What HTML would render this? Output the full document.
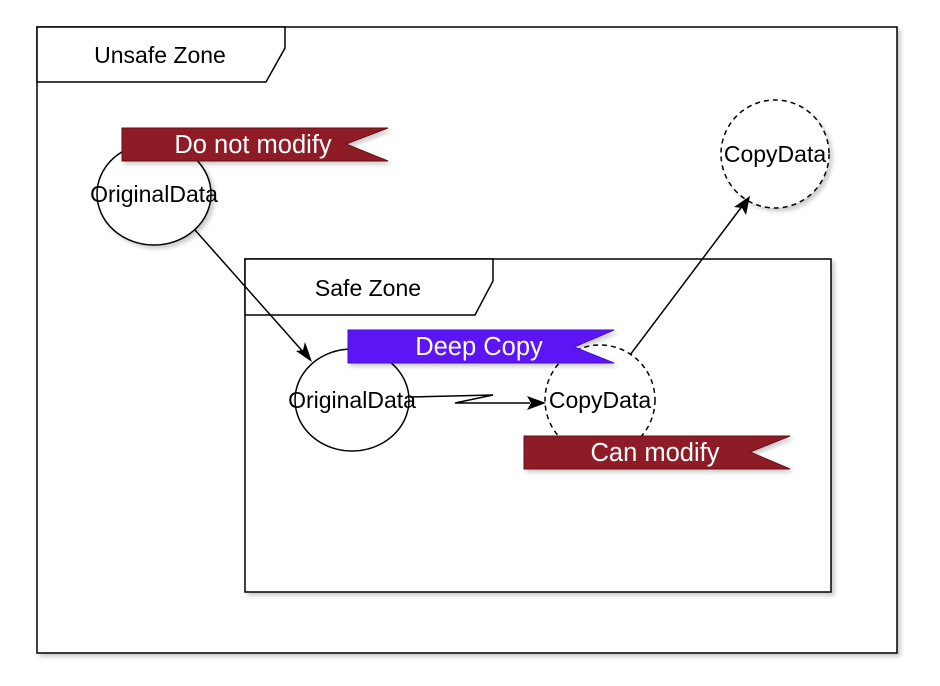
<!DOCTYPE html>
<html><head><style>body{margin:0;background:#fff}svg{display:block}text{font-family:"Liberation Sans",Arial,sans-serif}</style></head><body>
<svg width="940" height="686" viewBox="0 0 940 686" xmlns="http://www.w3.org/2000/svg">
<defs>
<filter id="sh" x="-10%" y="-10%" width="130%" height="130%"><feDropShadow dx="3" dy="3" stdDeviation="2" flood-color="#000" flood-opacity="0.2"/></filter>
</defs>
<g filter="url(#sh)">
<rect x="37" y="27" width="860" height="626" fill="#fff" stroke="#000" stroke-width="1.5"/>
<path d="M37,27 H285 V48 L266,82 H37 Z" fill="#fff" stroke="#000" stroke-width="1.5"/>
</g>
<text x="160" y="63" font-size="23" text-anchor="middle">Unsafe Zone</text>
<g filter="url(#sh)">
<ellipse cx="154" cy="194" rx="57" ry="51" fill="#fff" stroke="#000" stroke-width="1.5"/>
<circle cx="775" cy="154" r="54" fill="#fff" stroke="#000" stroke-width="1.5" stroke-dasharray="5,4"/>
<rect x="245" y="259" width="586" height="333" fill="#fff" stroke="#000" stroke-width="1.5"/>
<path d="M245,259 H493 V281 L475,315 H245 Z" fill="#fff" stroke="#000" stroke-width="1.5"/>
<ellipse cx="352" cy="400" rx="57" ry="51" fill="#fff" stroke="#000" stroke-width="1.5"/>
<circle cx="600" cy="400" r="55" fill="#fff" stroke="#000" stroke-width="1.5" stroke-dasharray="5,4"/>
</g>
<text x="368" y="296" font-size="23" text-anchor="middle">Safe Zone</text>
<g filter="url(#sh)">
<path d="M122,128 H388 L346,144 L388,161 H122 Z" fill="#8e1a26" stroke="#6a0f18"/>
<path d="M348,330 H614 L574,347 L614,363 H348 Z" fill="#5b16f5" stroke="#4a10d0"/>
<path d="M524,436 H790 L750,452 L790,469 H524 Z" fill="#8e1a26" stroke="#6a0f18"/>
</g>
<text x="253" y="153" font-size="25.5" fill="#fff" text-anchor="middle">Do not modify</text>
<text x="479" y="355" font-size="25.5" fill="#fff" text-anchor="middle">Deep Copy</text>
<text x="655" y="461" font-size="25.5" fill="#fff" text-anchor="middle">Can modify</text>
<text x="154" y="202" font-size="23" text-anchor="middle">OriginalData</text>
<text x="775" y="162" font-size="23" text-anchor="middle">CopyData</text>
<text x="352" y="408" font-size="23" text-anchor="middle">OriginalData</text>
<text x="600" y="408" font-size="23" text-anchor="middle">CopyData</text>
<g stroke="#000" stroke-width="1.5" fill="none">
<path d="M195,230 L305,354"/>
<path d="M410,397 L493,395 L455,403 L530,403"/>
<path d="M630,355 L743,205"/>
</g>
<g fill="#000">
<path d="M312,362 L296,351 L303,350 L305,342 Z"/>
<path d="M546,403 L527,396 L531,403 L527,410 Z"/>
<path d="M750,196 L746,215 L742,208 L734,207 Z"/>
</g>
</svg>
</body></html>
